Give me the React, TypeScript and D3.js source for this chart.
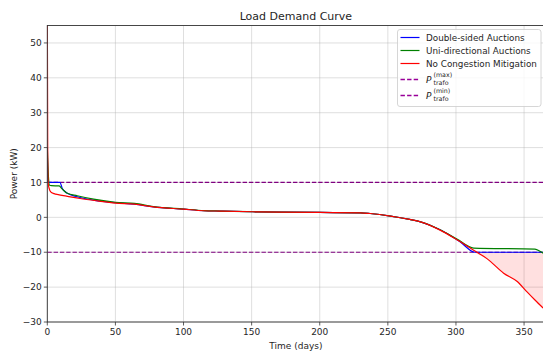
import * as d3 from "d3";

// Red: no congestion mitigation (sorted load duration curve)
const redDays = [0, 0.3, 0.6, 1.5, 2.5, 5, 8, 14, 24, 37, 50, 64, 78, 100, 115, 127, 151, 171, 200, 230, 237, 252, 266, 274, 288, 301, 313, 323, 335, 345, 352, 358, 364];
const redVals = [62, 20, 10, 8.1, 7.3, 6.8, 6.5, 6.1, 5.4, 4.7, 4.1, 3.8, 3.0, 2.35, 1.9, 1.8, 1.6, 1.5, 1.4, 1.3, 1.1, 0.37, -0.6, -1.3, -3.6, -6.5, -9.4, -11.9, -16, -18.4, -21.3, -23.7, -26];

// Blue: double-sided auctions
const blueDays = [0, 0.5, 1, 9.3, 11, 14.7, 22, 34, 50, 64, 78, 100, 115, 127, 151, 171, 200, 230, 237, 252, 266, 274, 288, 303, 314, 365];
const blueVals = [20, 10.2, 10, 10, 8.3, 6.9, 5.9, 4.95, 4.2, 3.8, 3.0, 2.35, 1.9, 1.8, 1.6, 1.5, 1.4, 1.3, 1.1, 0.37, -0.6, -1.3, -3.5, -7.0, -10, -10];

// Green: uni-directional auctions
const greenDays = [0, 1, 1.5, 3, 8.7, 11, 14.7, 22, 34, 50, 64, 78, 100, 115, 127, 151, 171, 200, 230, 237, 252, 266, 274, 288, 301, 313, 358, 362, 365];
const greenVals = [20, 10.7, 9.3, 9.1, 9.0, 8.1, 6.9, 6.2, 5.2, 4.3, 4.0, 3.1, 2.4, 1.95, 1.8, 1.6, 1.5, 1.4, 1.3, 1.1, 0.37, -0.6, -1.3, -3.5, -6.3, -8.8, -9.1, -9.8, -10.5];

const pMax = 10;
const pMin = -10;

const xTicks = [0, 50, 100, 150, 200, 250, 300, 350];
const yTicks = [-30, -20, -10, 0, 10, 20, 30, 40, 50];

const W = 543;
const H = 354;
const margin = { top: 25.5, right: -1.5, bottom: 32, left: 47.3 };

export default function App() {
  const x0 = margin.left;
  const x1 = W - margin.right;
  const y0 = margin.top;
  const y1 = H - margin.bottom;

  const xScale = d3.scaleLinear().domain([0, 365]).range([x0, x1]);
  const yScale = d3.scaleLinear().domain([-30, 55]).range([y1, y0]);

  const toPts = (days: number[], vals: number[]) =>
    days.map((d, i) => [d, vals[i]] as [number, number]);

  const line = d3
    .line<[number, number]>()
    .x((d) => xScale(d[0]))
    .y((d) => yScale(d[1]))
    .curve(d3.curveMonotoneX);

  const area = d3
    .area<[number, number]>()
    .x((d) => xScale(d[0]))
    .y0(yScale(pMin))
    .y1((d) => yScale(Math.min(d[1], pMin)))
    .curve(d3.curveLinear);

  const redPts = toPts(redDays, redVals);
  const font = "DejaVu Sans, sans-serif";
  const txt = "#262626";

  const legendItems = [
    { label: "Double-sided Auctions", color: "#0000ff" },
    { label: "Uni-directional Auctions", color: "#008000" },
    { label: "No Congestion Mitigation", color: "#ff0000" },
  ];
  const legendRows = [37.5, 50.5, 63.5, 79.5, 95.5];

  return (
    <svg width={W} height={H} style={{ position: "absolute", left: 0, top: 0, background: "#fff" }} fontFamily={font}>
      <defs>
        <clipPath id="plot">
          <rect x={x0} y={y0} width={x1 - x0} height={y1 - y0} />
        </clipPath>
      </defs>

      {/* grid */}
      {xTicks.map((t) => (
        <line key={`gx${t}`} x1={xScale(t)} x2={xScale(t)} y1={y0} y2={y1} stroke="#b0b0b0" strokeOpacity={0.5} strokeWidth={0.8} />
      ))}
      {yTicks.map((t) => (
        <line key={`gy${t}`} x1={x0} x2={x1} y1={yScale(t)} y2={yScale(t)} stroke="#b0b0b0" strokeOpacity={0.5} strokeWidth={0.8} />
      ))}

      <g clipPath="url(#plot)">
        <path d={area(redPts) || ""} fill="#ff0000" fillOpacity={0.12} />
        <line x1={x0} x2={x1} y1={yScale(pMax)} y2={yScale(pMax)} stroke="#800080" strokeWidth={1.2} strokeDasharray="4.4,1.9" />
        <line x1={x0} x2={x1} y1={yScale(pMin)} y2={yScale(pMin)} stroke="#800080" strokeWidth={1.2} strokeDasharray="4.4,1.9" />
        <path d={line(toPts(blueDays, blueVals)) || ""} fill="none" stroke="#0000ff" strokeWidth={1.2} />
        <path d={line(toPts(greenDays, greenVals)) || ""} fill="none" stroke="#008000" strokeWidth={1.2} />
        <path d={line(redPts) || ""} fill="none" stroke="#ff0000" strokeWidth={1.2} />
      </g>

      {/* spines */}
      <rect x={x0} y={y0} width={x1 - x0} height={y1 - y0} fill="none" stroke="#333" strokeWidth={0.9} />

      {/* x axis */}
      {xTicks.map((t) => (
        <g key={`xt${t}`}>
          <line x1={xScale(t)} x2={xScale(t)} y1={y1} y2={y1 + 3.5} stroke="#333" strokeWidth={0.8} />
          <text x={xScale(t)} y={y1 + 13} textAnchor="middle" fontSize={9} fill={txt}>{t}</text>
        </g>
      ))}
      {/* y axis */}
      {yTicks.map((t) => (
        <g key={`yt${t}`}>
          <line x1={x0 - 3.5} x2={x0} y1={yScale(t)} y2={yScale(t)} stroke="#333" strokeWidth={0.8} />
          <text x={x0 - 5.5} y={yScale(t)} dy="0.35em" textAnchor="end" fontSize={9} fill={txt}>
            {t < 0 ? `\u2212${Math.abs(t)}` : t}
          </text>
        </g>
      ))}

      <text x={(x0 + x1) / 2} y={349} textAnchor="middle" fontSize={9} fill={txt}>Time (days)</text>
      <text transform={`translate(17,${(y0 + y1) / 2}) rotate(-90)`} textAnchor="middle" fontSize={9} fill={txt}>Power (kW)</text>
      <text x={(x0 + x1) / 2} y={20} textAnchor="middle" fontSize={11} fill={txt}>Load Demand Curve</text>

      {/* legend */}
      <rect x={397.5} y={29.5} width={143.5} height={77} rx={2.5} fill="#fff" fillOpacity={0.8} stroke="#cccccc" strokeWidth={0.8} />
      {legendItems.map((it, i) => (
        <g key={it.label}>
          <line x1={400.5} x2={419.5} y1={legendRows[i]} y2={legendRows[i]} stroke={it.color} strokeWidth={1.2} />
          <text x={426} y={legendRows[i]} dy="0.35em" fontSize={8.8} fill={txt}>{it.label}</text>
        </g>
      ))}
      {[
        { sup: "(max)", row: legendRows[3] },
        { sup: "(min)", row: legendRows[4] },
      ].map((it) => (
        <g key={it.sup}>
          <line x1={400.5} x2={419.5} y1={it.row} y2={it.row} stroke="#990099" strokeWidth={1.5} strokeDasharray="4.4,2.2" />
          <text x={426} y={it.row + 3.5} fontSize={9} fontStyle="italic" fill={txt}>P</text>
          <text x={433.5} y={it.row - 2.5} fontSize={6.3} fill={txt}>{it.sup}</text>
          <text x={433.5} y={it.row + 5.5} fontSize={6.3} fill={txt}>trafo</text>
        </g>
      ))}
    </svg>
  );
}
